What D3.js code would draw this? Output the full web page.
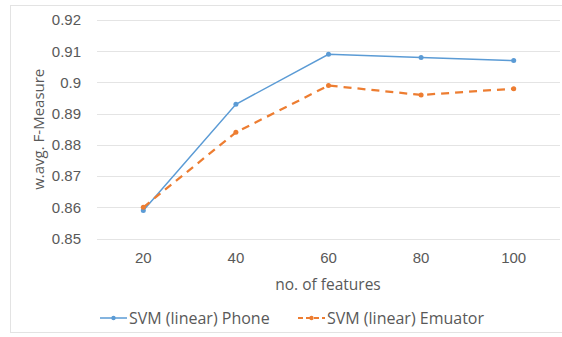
<!DOCTYPE html>
<html>
<head>
<meta charset="utf-8">
<script src="https://cdn.jsdelivr.net/npm/d3@7"></script>
<style>
  html, body { margin: 0; padding: 0; background: #fff; }
  svg { display: block; font-family: "Open Sans", "Liberation Sans", sans-serif; }
</style>
</head>
<body>
<svg id="chart" width="562" height="337"></svg>
<script>
// Feature counts along the x axis
const categories = ["20", "40", "60", "80", "100"];
// Weighted-average F-measure per feature count
const phoneValues = [0.859, 0.893, 0.909, 0.908, 0.907];
const emulatorValues = [0.860, 0.884, 0.899, 0.896, 0.898];
const yTicks = [0.85, 0.86, 0.87, 0.88, 0.89, 0.90, 0.91, 0.92];
const seriesNames = ["SVM (linear) Phone", "SVM (linear) Emuator"];

const svg = d3.select("#chart");
const W = 562, H = 337;
const margin = { left: 97, right: 2, top: 20, bottom: 98 };

// Outer chart frame
svg.append("rect")
  .attr("x", 10.5).attr("y", 5.5)
  .attr("width", W + 10).attr("height", 327)
  .attr("fill", "#fff").attr("stroke", "#e3e3e3");

const x = d3.scaleBand().domain(categories)
  .range([margin.left, W - margin.right]);
const y = d3.scaleLinear().domain([0.85, 0.92])
  .range([H - margin.bottom - 0.5, margin.top]);

// Horizontal gridlines
svg.append("g").selectAll("line").data(yTicks).join("line")
  .attr("x1", margin.left).attr("x2", W - margin.right)
  .attr("y1", d => Math.round(y(d)) + 0.5).attr("y2", d => Math.round(y(d)) + 0.5)
  .attr("stroke", "#e4e4e4").attr("stroke-width", 1);

// Y axis labels
const yAxis = svg.append("g")
  .attr("transform", `translate(${margin.left - 16},0)`)
  .call(d3.axisLeft(y).tickValues(yTicks).tickSize(0).tickPadding(0)
    .tickFormat(d => d3.format("~g")(+d.toFixed(2))));
yAxis.select(".domain").remove();
yAxis.selectAll("text").attr("fill", "#595959").style("font-size", "15px")
  .style("font-family", "inherit");

// X axis labels
const xAxis = svg.append("g")
  .attr("transform", `translate(0,${y(0.85)})`)
  .call(d3.axisBottom(x).tickSize(0).tickPadding(14));
xAxis.select(".domain").remove();
xAxis.selectAll("text").attr("fill", "#595959").style("font-size", "15px")
  .style("font-family", "inherit");

// Axis titles
svg.append("text")
  .attr("transform", `translate(39,${(y(0.85) + y(0.92)) / 2}) rotate(-90)`)
  .attr("text-anchor", "middle").attr("dy", "0.35em")
  .attr("fill", "#595959").style("font-size", "15px")
  .text("w.avg. F-Measure");
svg.append("text")
  .attr("x", 328).attr("y", 290)
  .attr("text-anchor", "middle")
  .attr("fill", "#595959").style("font-size", "15.5px")
  .text("no. of features");

const cx = d => x(d) + x.bandwidth() / 2;
const line = d3.line().x((d, i) => cx(categories[i])).y(d => y(d));

const series = [
  { name: seriesNames[0], values: phoneValues, color: "#5b9bd5", dash: null },
  { name: seriesNames[1], values: emulatorValues, color: "#ed7d31", dash: "8,6" }
];

series.forEach(s => {
  svg.append("path").datum(s.values)
    .attr("d", line)
    .attr("fill", "none")
    .attr("stroke", s.color)
    .attr("stroke-width", s.dash ? 2.25 : 1.5)
    .attr("stroke-dasharray", s.dash);
  svg.append("g").selectAll("circle").data(s.values).join("circle")
    .attr("cx", (d, i) => cx(categories[i]))
    .attr("cy", d => y(d))
    .attr("r", 2.5)
    .attr("fill", s.color);
});

// Legend
const legendX = [100, 298];
series.forEach((s, i) => {
  const g = svg.append("g").attr("transform", `translate(${legendX[i]},318)`);
  g.append("line").attr("x1", 0).attr("x2", 27).attr("y1", 0).attr("y2", 0)
    .attr("stroke", s.color).attr("stroke-width", s.dash ? 2 : 1.5)
    .attr("stroke-dasharray", s.dash ? "5,3" : null);
  g.append("circle").attr("cx", 13.5).attr("cy", 0).attr("r", 2.2).attr("fill", s.color);
  g.append("text").attr("x", 29).attr("y", 0).attr("dy", "0.35em")
    .attr("fill", "#595959").style("font-size", "16px")
    .text(s.name);
});
</script>
</body>
</html>
